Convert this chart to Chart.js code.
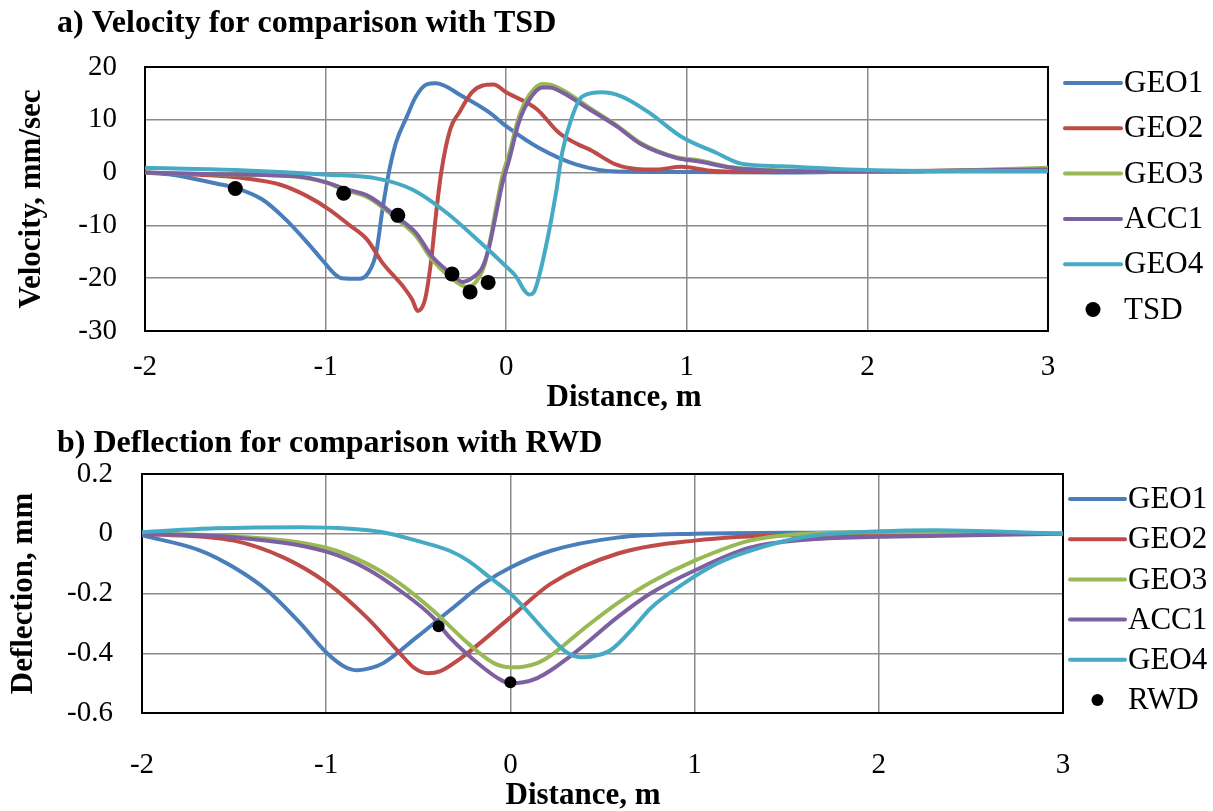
<!DOCTYPE html>
<html>
<head>
<meta charset="utf-8">
<script src="https://cdn.jsdelivr.net/npm/chart.js@4.4.1/dist/chart.umd.min.js"></script>
<style>
  html, body { margin: 0; padding: 0; background: #fff; }
  #wrap { position: relative; width: 1213px; height: 811px; }
  canvas { position: absolute; left: 0; }
  #velChart { top: 0; }
  #defChart { top: 420px; }
</style>
</head>
<body>
<div id="wrap">
  <canvas id="velChart" width="1213" height="420" style="width:1213px;height:420px"></canvas>
  <canvas id="defChart" width="1213" height="391" style="width:1213px;height:391px"></canvas>
</div>
<script>
// ---- a) velocity, mm/sec ----
const geo1VelX = [-2, -1.85, -1.71, -1.6, -1.5, -1.35, -1.22, -1.1, -1.02, -0.95, -0.91, -0.81, -0.76, -0.72, -0.685, -0.65, -0.61, -0.55, -0.5, -0.44, -0.39, -0.24, -0.094, 0, 0.18, 0.39, 0.61, 1, 1.5, 2, 2.5, 3];
const geo1Vel  = [0, -0.4, -1.3, -2.1, -2.9, -5.1, -8.9, -13.3, -16.5, -19.2, -20, -20.1, -18.8, -15.2, -7, 0, 5.7, 10.6, 14.4, 16.7, 16.9, 14.4, 11.4, 8.8, 4.7, 1.5, 0.2, 0.1, 0, 0.2, 0.3, 0.4];

const geo2VelX = [-2, -1.7, -1.44, -1.25, -1.1, -0.98, -0.87, -0.77, -0.685, -0.57, -0.52, -0.49, -0.45, -0.415, -0.39, -0.36, -0.31, -0.26, -0.19, -0.13, -0.07, 0, 0.17, 0.29, 0.4, 0.46, 0.61, 0.72, 0.83, 0.97, 1.15, 1.5, 2, 2.5, 3];
const geo2Vel  = [0, -0.4, -1.1, -2.3, -4.5, -7, -9.9, -12.7, -17.1, -21.6, -24.1, -26.2, -24.1, -16.5, -8.3, 0, 8.2, 11.4, 15.2, 16.5, 16.7, 15.2, 12, 7.6, 5.3, 4.4, 1.5, 0.7, 0.6, 1.1, 0.3, 0.1, 0.2, 0.4, 0.7];

const geo3VelX = [-2, -1.6, -1.16, -0.99, -0.91, -0.76, -0.61, -0.5, -0.41, -0.31, -0.22, -0.17, -0.12, -0.09, -0.055, -0.02, 0.02, 0.07, 0.13, 0.2, 0.25, 0.32, 0.46, 0.61, 0.75, 0.94, 1.07, 1.25, 1.53, 2, 2.5, 3];
const geo3Vel  = [0, -0.3, -0.8, -2, -3.1, -4.8, -8.7, -12, -16.5, -19.8, -21.6, -20.8, -17.5, -13, -6.5, -0.5, 4, 10.5, 14.8, 16.8, 16.6, 15.5, 12.3, 9, 5.5, 2.9, 2.3, 1, 0.4, 0.2, 0.4, 0.9];

const acc1VelX = [-2, -1.6, -1.16, -0.99, -0.91, -0.76, -0.61, -0.5, -0.41, -0.31, -0.24, -0.19, -0.13, -0.094, -0.055, -0.02, 0.017, 0.07, 0.13, 0.2, 0.24, 0.31, 0.46, 0.61, 0.75, 0.94, 1.07, 1.25, 1.53, 2, 2.5, 3];
const acc1Vel  = [0, -0.3, -0.7, -1.9, -2.9, -4.5, -8.3, -11.4, -15.9, -19, -20.7, -20, -17.8, -14, -7.6, -1.9, 2.5, 9.5, 13.9, 16.1, 16.1, 15.2, 12, 8.8, 5.3, 2.8, 2.1, 0.9, 0.3, 0.2, 0.4, 0.6];

const geo4VelX = [-2, -1.5, -0.99, -0.72, -0.52, -0.33, -0.15, 0, 0.055, 0.1, 0.127, 0.15, 0.166, 0.22, 0.276, 0.31, 0.365, 0.42, 0.53, 0.64, 0.79, 0.97, 1.16, 1.3, 1.53, 1.9, 2.5, 3];
const geo4Vel  = [0.9, 0.5, -0.4, -1.1, -3.2, -7.6, -13, -17.8, -19.7, -22.3, -23.1, -22.8, -21.6, -14, -3.8, 3.8, 10.6, 14.4, 15.2, 14.4, 11.4, 6.8, 3.8, 1.7, 1.2, 0.6, 0.3, 0.3];

const tsdX = [-1.5, -0.9, -0.6, -0.3, -0.2, -0.1];
const tsdVel = [-3, -3.9, -8.1, -19.2, -22.6, -20.8];

// ---- b) deflection, mm ----
const geo1DefX = [-2, -1.68, -1.5, -1.32, -1.14, -0.995, -0.9, -0.83, -0.76, -0.69, -0.51, -0.33, -0.147, 0, 0.22, 0.58, 1, 1.5, 2, 2.5, 3];
const geo1Def  = [-0.005, -0.057, -0.113, -0.19, -0.3, -0.4, -0.445, -0.457, -0.45, -0.433, -0.347, -0.257, -0.167, -0.113, -0.057, -0.013, 0, 0.003, 0.005, 0.005, 0];

const geo2DefX = [-2, -1.5, -1.23, -1, -0.78, -0.6, -0.52, -0.45, -0.38, -0.27, 0, 0.22, 0.58, 1, 1.5, 2, 3];
const geo2Def  = [0, -0.023, -0.08, -0.163, -0.28, -0.4, -0.45, -0.467, -0.46, -0.417, -0.28, -0.167, -0.067, -0.023, -0.005, -0.003, 0];

const geo3DefX = [-2, -1.5, -1, -0.78, -0.6, -0.42, -0.23, -0.09, 0, 0.07, 0.146, 0.22, 0.4, 0.58, 0.76, 1, 1.3, 1.6, 2, 2.5, 3];
const geo3Def  = [0, -0.008, -0.047, -0.1, -0.167, -0.257, -0.367, -0.433, -0.447, -0.445, -0.433, -0.407, -0.317, -0.233, -0.163, -0.09, -0.023, 0, 0.005, 0.005, 0];

const acc1DefX = [-2, -1.5, -1, -0.78, -0.6, -0.42, -0.33, -0.15, -0.05, 0, 0.07, 0.146, 0.22, 0.31, 0.4, 0.58, 0.76, 1, 1.3, 1.6, 2, 2.5, 3];
const acc1Def  = [0, -0.012, -0.06, -0.117, -0.19, -0.28, -0.347, -0.447, -0.49, -0.5, -0.497, -0.483, -0.457, -0.417, -0.373, -0.28, -0.2, -0.123, -0.047, -0.02, -0.01, -0.005, 0];

const geo4DefX = [-2, -1.6, -1.14, -0.87, -0.7, -0.51, -0.33, -0.23, -0.11, 0, 0.22, 0.3, 0.38, 0.45, 0.543, 0.67, 0.76, 0.94, 1.12, 1.3, 1.6, 2, 2.3, 2.6, 3];
const geo4Def  = [0.005, 0.018, 0.022, 0.017, 0.006, -0.023, -0.057, -0.09, -0.147, -0.2, -0.347, -0.395, -0.413, -0.41, -0.39, -0.313, -0.25, -0.167, -0.1, -0.057, -0.01, 0.008, 0.012, 0.008, 0];

const rwdX = [-0.39, 0];
const rwdDef = [-0.31, -0.497];

const seriesNames = ["GEO1", "GEO2", "GEO3", "ACC1", "GEO4"];
const seriesColors = ["#4A7EBB", "#BE4B48", "#98B954", "#7D60A0", "#46AAC5"];

const FONT = "'Liberation Serif', 'Times New Roman', serif";

function zip(xs, ys) { return xs.map((x, i) => ({ x, y: ys[i] })); }

function lineSet(i, xs, ys) {
  return {
    label: seriesNames[i],
    data: zip(xs, ys),
    borderColor: seriesColors[i],
    backgroundColor: seriesColors[i],
    borderWidth: 4,
    pointRadius: 0,
    fill: false,
    cubicInterpolationMode: "monotone",
    order: 5 - i
  };
}

function dotSet(label, xs, ys, r) {
  return {
    label,
    data: zip(xs, ys),
    showLine: false,
    pointRadius: r,
    pointHoverRadius: r,
    pointBackgroundColor: "#000",
    pointBorderWidth: 0,
    borderColor: "#000",
    backgroundColor: "#000",
    order: 0
  };
}

// black frame round the plot area, under the lines
const frame = {
  id: "frame",
  beforeDatasetsDraw(chart) {
    const { ctx, chartArea: a } = chart;
    ctx.save();
    ctx.strokeStyle = "#000";
    ctx.lineWidth = 2;
    ctx.strokeRect(a.left, a.top, a.right - a.left, a.bottom - a.top);
    ctx.restore();
  }
};

// panel caption, x axis title and side legend
const extras = {
  id: "extras",
  afterDraw(chart, args, opts) {
    const ctx = chart.ctx;
    ctx.save();
    ctx.fillStyle = "#000";
    ctx.textBaseline = "middle";
    ctx.textAlign = "left";
    ctx.font = "bold 32px " + FONT;
    ctx.fillText(opts.caption, opts.capX, opts.capY);

    ctx.textAlign = "center";
    ctx.font = "bold 31px " + FONT;
    ctx.fillText("Distance, m", opts.xTitleX, opts.xTitleY);

    ctx.textAlign = "left";
    ctx.font = "31px " + FONT;
    chart.data.datasets.forEach((ds, i) => {
      const y = opts.y0 + i * opts.dy;
      if (ds.showLine === false) {
        ctx.beginPath();
        ctx.arc((opts.x1 + opts.x2) / 2, y, opts.dotR, 0, Math.PI * 2);
        ctx.fillStyle = "#000";
        ctx.fill();
      } else {
        ctx.beginPath();
        ctx.moveTo(opts.x1, y);
        ctx.lineTo(opts.x2, y);
        ctx.strokeStyle = ds.borderColor;
        ctx.lineWidth = 4;
        ctx.lineCap = "round";
        ctx.stroke();
      }
      ctx.fillStyle = "#000";
      ctx.fillText(ds.label, opts.tx, y + 1);
    });
    ctx.restore();
  }
};

function axes(cfg) {
  return {
    x: {
      type: "linear",
      min: -2, max: 3,
      ticks: { stepSize: 1, color: "#000", font: { family: FONT, size: 29 }, padding: cfg.xPad },
      grid: { color: "#8a8a8a", lineWidth: 1.5, drawTicks: false },
      border: { display: false },
      title: { display: false },
      afterFit(s) { s.height = cfg.xHeight; }
    },
    y: {
      min: cfg.yMin, max: cfg.yMax,
      ticks: { stepSize: cfg.yStep, color: "#000", font: { family: FONT, size: 29 }, padding: cfg.yPad },
      grid: { color: "#8a8a8a", lineWidth: 1.5, drawTicks: false },
      border: { display: false },
      title: { display: true, text: cfg.yTitle, color: "#000",
               font: { family: FONT, size: 31, weight: "bold" }, padding: { top: cfg.yTitlePad, bottom: 0 } },
      afterFit(s) { s.width = cfg.yWidth; }
    }
  };
}

new Chart(document.getElementById("velChart"), {
  type: "line",
  data: {
    datasets: [
      lineSet(0, geo1VelX, geo1Vel),
      lineSet(1, geo2VelX, geo2Vel),
      lineSet(2, geo3VelX, geo3Vel),
      lineSet(3, acc1VelX, acc1Vel),
      lineSet(4, geo4VelX, geo4Vel),
      dotSet("TSD", tsdX, tsdVel, 7.5)
    ]
  },
  options: {
    responsive: false,
    animation: false,
    layout: { padding: { left: 0, top: 67, right: 165, bottom: 0 } },
    scales: axes({ yMin: -30, yMax: 20, yStep: 10, yTitle: "Velocity, mm/sec",
                   xPad: 19, xHeight: 89, yPad: 28, yTitlePad: 13, yWidth: 145 }),
    plugins: {
      legend: { display: false },
      tooltip: { enabled: false },
      extras: { caption: "a) Velocity for comparison with TSD", capX: 57, capY: 24,
                xTitleX: 624, xTitleY: 398,
                x1: 1065, x2: 1121, tx: 1124, y0: 83, dy: 45.3, dotR: 7.5 }
    }
  },
  plugins: [frame, extras]
});

new Chart(document.getElementById("defChart"), {
  type: "line",
  data: {
    datasets: [
      lineSet(0, geo1DefX, geo1Def),
      lineSet(1, geo2DefX, geo2Def),
      lineSet(2, geo3DefX, geo3Def),
      lineSet(3, acc1DefX, acc1Def),
      lineSet(4, geo4DefX, geo4Def),
      dotSet("RWD", rwdX, rwdDef, 6)
    ]
  },
  options: {
    responsive: false,
    animation: false,
    layout: { padding: { left: 0, top: 54, right: 150, bottom: 0 } },
    scales: axes({ yMin: -0.6, yMax: 0.2, yStep: 0.2, yTitle: "Deflection, mm",
                   xPad: 35, xHeight: 98, yPad: 29, yTitlePad: 5, yWidth: 142 }),
    plugins: {
      legend: { display: false },
      tooltip: { enabled: false },
      extras: { caption: "b) Deflection for comparison with RWD", capX: 57, capY: 24,
                xTitleX: 583, xTitleY: 376,
                x1: 1070, x2: 1125, tx: 1128, y0: 79, dy: 40.2, dotR: 6 }
    }
  },
  plugins: [frame, extras]
});
</script>
</body>
</html>
